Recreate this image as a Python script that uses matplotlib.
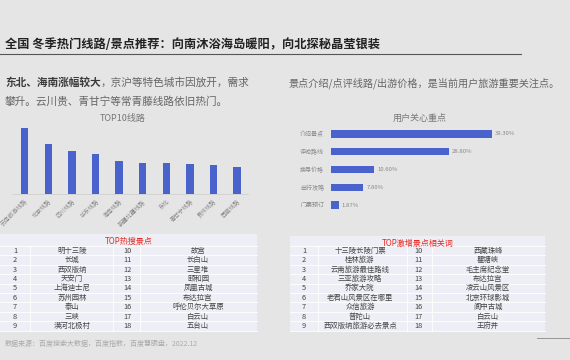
import matplotlib
matplotlib.use("Agg")
import matplotlib.pyplot as plt
from matplotlib.patches import Rectangle

plt.rcParams['font.family'] = ['Noto Sans CJK SC', 'DejaVu Sans']

BG = '#e5e5e5'
BLUE = '#4a62cb'

# ---------------- data ----------------
route_names = ['云南旅游线路', '北京线路', '四川线路', '华东线路', '海南线路',
               '新疆北疆线路', '东北', '青甘宁线路', '贵州线路', '西藏线路']
route_values = [100, 75, 65, 60, 50, 47.5, 47, 45, 44, 41]

concern_names = ['介绍景点', '评论路线', '搜寻价格', '出行攻略', '门票预订']
concern_values = [39.30, 28.80, 10.60, 7.80, 1.87]

hot_rank_a = list(range(1, 10))
hot_name_a = ['明十三陵', '长城', '西双版纳', '天安门', '上海迪士尼', '苏州园林', '泰山', '三峡', '漠河北极村']
hot_rank_b = list(range(10, 19))
hot_name_b = ['故宫', '长白山', '三星堆', '颐和园', '凤凰古城', '布达拉宫', '呼伦贝尔大草原', '白云山', '五台山']

rise_rank_a = list(range(1, 10))
rise_name_a = ['十三陵长陵门票', '桂林旅游', '云南旅游最佳路线', '三亚旅游攻略', '乔家大院',
               '老君山风景区在哪里', '众信旅游', '普陀山', '西双版纳旅游必去景点']
rise_rank_b = list(range(10, 19))
rise_name_b = ['西藏珠峰', '瞿塘峡', '毛主席纪念堂', '布达拉宫', '凌云山风景区',
               '北京环球影城', '阆中古城', '白云山', '王府井']

W, H = 570, 360
fig = plt.figure(figsize=(W / 100, H / 100), dpi=100, facecolor=BG)


def fx(x):
    return x / W


def fy(y):
    return 1 - y / H


# overlay axes in pixel coordinates for text/tables/lines
ov = fig.add_axes([0, 0, 1, 1], zorder=0)
ov.set_xlim(0, W)
ov.set_ylim(H, 0)
ov.axis('off')
ov.set_facecolor('none')

# header
ov.text(5, 44, '全国 冬季热门线路/景点推荐：向南沐浴海岛暖阳，向北探秘晶莹银装',
        fontsize=8.8, fontweight='bold', color='#222222', va='center', ha='left')
ov.plot([0, 521], [53.5, 53.5], color='#555555', lw=0.8)

# left subtitle
t1 = ov.text(5, 83, '东北、海南涨幅较大', fontsize=7.7, fontweight='bold', color='#3a3a3a',
             va='center', ha='left')
fig.canvas.draw()
bb = t1.get_window_extent()
x_after = bb.x1
ov.text(x_after, H - 83, '，京沪等特色城市因放开，需求', fontsize=7.7, color='#666666',
        va='center', ha='left', transform=None)
ov.text(5, 101, '攀升。云川贵、青甘宁等常青藤线路依旧热门。', fontsize=7.7, color='#666666',
        va='center', ha='left')

# right subtitle
ov.text(289, 83, '景点介绍/点评线路/出游价格，是当前用户旅游重要关注点。', fontsize=7.3,
        color='#666666', va='center', ha='left')

# ---------------- left bar chart ----------------
axl = fig.add_axes([fx(12), fy(194.3), fx(236), 70.3 / H])
axl.set_facecolor('none')
xs = list(range(len(route_names)))
axl.bar(xs, route_values, width=0.31, color=BLUE)
axl.set_xlim(-0.54, 9.46)
axl.set_ylim(0, 105.6)
for s in ['top', 'right', 'left']:
    axl.spines[s].set_visible(False)
axl.spines['bottom'].set_color('#d0d0d0')
axl.spines['bottom'].set_linewidth(0.6)
axl.set_yticks([])
axl.set_xticks(xs)
axl.set_xticklabels(route_names, rotation=45, ha='right', rotation_mode='anchor',
                    fontsize=4.2, color='#888888')
axl.tick_params(axis='x', length=0, pad=3)
ov.text(123, 119, 'TOP10线路', fontsize=6.5, color='#777777', ha='center', va='center')

# ---------------- right bar chart ----------------
axr = fig.add_axes([fx(331), fy(213.9), fx(200), 88.8 / H])
axr.set_facecolor('none')
ys = list(range(len(concern_names)))
axr.barh(ys, concern_values, height=0.4, color=BLUE)
axr.set_xlim(0, 200 / 4.09)
axr.set_ylim(4.5, -0.5)
for s in axr.spines.values():
    s.set_visible(False)
axr.set_xticks([])
axr.set_yticks(ys)
axr.set_yticklabels(concern_names, fontsize=4.3, color='#888888')
axr.tick_params(axis='y', length=0, pad=5)
for y, v in zip(ys, concern_values):
    axr.text(v + 0.8, y, f'{v:.2f}%', fontsize=4.3, color='#888888', va='center', ha='left')
ov.text(420, 118, '用户关心重点', fontsize=6.5, color='#777777', ha='center', va='center')


# ---------------- tables ----------------
def draw_table(x0, x1, top, title, cols, dividers, ranks_a, names_a, ranks_b, names_b):
    row_h = 9.41
    first = 250.7
    bottom = first + 8 * row_h + row_h / 2
    ov.add_patch(Rectangle((x0, top), x1 - x0, bottom - top, facecolor='#eeeff6',
                           edgecolor='none', zorder=1))
    ov.text((x0 + x1) / 2, top + 7, title, fontsize=5.8, color='#e8261f',
            ha='center', va='center', zorder=3)
    for i in range(10):
        yy = first - row_h / 2 + i * row_h
        ov.plot([x0, x1], [yy, yy], color='white', lw=0.6, zorder=2)
    for d in dividers:
        ov.plot([d, d], [first - row_h / 2, bottom], color='white', lw=0.6, zorder=2)
    for i in range(9):
        yy = first + i * row_h
        ov.text(cols[0], yy, str(ranks_a[i]), fontsize=5.3, color='#444444', ha='center',
                va='center', zorder=3)
        ov.text(cols[1], yy, names_a[i], fontsize=5.3, color='#444444', ha='center',
                va='center', zorder=3)
        ov.text(cols[2], yy, str(ranks_b[i]), fontsize=5.3, color='#444444', ha='center',
                va='center', zorder=3)
        ov.text(cols[3], yy, names_b[i], fontsize=5.3, color='#444444', ha='center',
                va='center', zorder=3)


draw_table(0, 257, 234, 'TOP热搜景点', [15, 72, 127, 198], [30, 113, 140],
           hot_rank_a, hot_name_a, hot_rank_b, hot_name_b)
draw_table(290, 545, 236, 'TOP激增景点相关词', [304, 360, 418, 488], [318, 407, 432],
           rise_rank_a, rise_name_a, rise_rank_b, rise_name_b)

# footer
ov.text(5, 344, '数据来源：百度搜索大数据，百度指数，百度慧眼盘，2022.12', fontsize=5,
        color='#aaaaaa', ha='left', va='center')
ov.plot([537, 570], [338, 338], color='#888888', lw=0.6)

fig.savefig('out.png', dpi=100, facecolor=BG)
